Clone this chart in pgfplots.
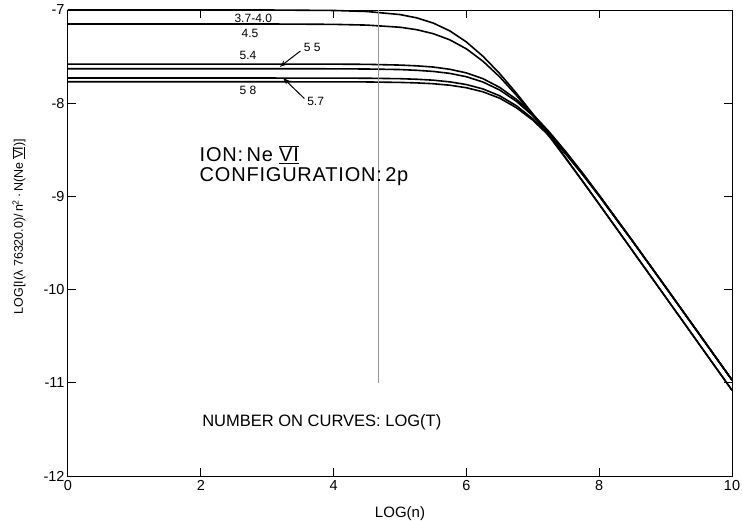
\documentclass[border=0pt]{standalone}
\usepackage{fontspec}
\setmainfont{Liberation Sans}
\usepackage{pgfplots}
\pgfplotsset{compat=1.18}
\usetikzlibrary{arrows.meta}
\newcommand{\rn}[1]{$\overline{\underline{\mbox{#1}}}$}
\newcommand{\fs}[1]{\fontsize{#1}{#1}\selectfont}

\begin{document}
\begin{tikzpicture}
\useasboundingbox (-68pt,-44pt) rectangle (674pt,476pt);
\begin{axis}[
  scale only axis,
  width=664pt, height=466pt,
  xmin=0, xmax=10, ymin=-12, ymax=-7,
  axis line style={line width=1pt},
  tick align=inside,
  major tick length=8pt,
  tick style={line width=1pt, black},
  xtick={0,2,4,6,8,10},
  xticklabels={0,2,4,6,8,10},
  ytick={-12,-11,-10,-9,-8,-7},
  yticklabels={-12,-11,-10,-9,-8,-7},
  ticklabel style={font=\fs{14.5}},
  xticklabel style={yshift=-1pt},
  yticklabel style={xshift=0pt},
  xlabel={LOG(n)},
  xlabel style={font=\fs{15}, at={(axis description cs:0.5,0)}, anchor=center, yshift=-38pt},
  ylabel={LOG[I(λ 76320.0)/\,n\textsuperscript{2}\,·\,N(Ne \rn{VI})]},
  ylabel style={font=\fs{12.5}, at={(axis description cs:-0.074,0.535)}, anchor=center, rotate=0},
  clip=false,
]
% 3.7-4.0
\addplot[line width=1.6pt, black] coordinates {
  (0,-7.000)(3,-7.000)(4,-7.005)(4.5,-7.016)(5,-7.049)(5.25,-7.084)(5.5,-7.140)
  (5.75,-7.224)(6,-7.343)(6.25,-7.497)(6.5,-7.681)(6.75,-7.890)(7,-8.115)
  (7.25,-8.350)(7.5,-8.591)(7.75,-8.836)(8,-9.084)(8.5,-9.581)(9,-10.080)
  (9.5,-10.580)(10,-11.080)
};
% 4.5
\addplot[line width=1.6pt, black] coordinates {
  (0,-7.150)(3,-7.150)(4,-7.154)(4.5,-7.162)(5,-7.185)(5.25,-7.211)(5.5,-7.254)
  (5.75,-7.320)(6,-7.417)(6.25,-7.550)(6.5,-7.717)(6.75,-7.912)(7,-8.128)
  (7.25,-8.358)(7.5,-8.596)(7.75,-8.839)(8,-9.085)(8.5,-9.582)(9,-10.081)
  (9.5,-10.580)(10,-11.080)
};
% 5.4
\addplot[line width=1.6pt, black] coordinates {
  (0,-7.580)(3,-7.580)(4,-7.581)(4.5,-7.583)(5,-7.591)(5.25,-7.599)(5.5,-7.612)
  (5.75,-7.636)(6,-7.675)(6.25,-7.737)(6.5,-7.830)(6.75,-7.957)(7,-8.118)
  (7.25,-8.310)(7.5,-8.523)(7.75,-8.750)(8,-8.987)(8.5,-9.476)(9,-9.972)
  (9.5,-10.471)(10,-10.970)
};
% 5.5
\addplot[line width=1.6pt, black] coordinates {
  (0,-7.630)(3,-7.630)(4,-7.631)(4.5,-7.633)(5,-7.639)(5.25,-7.647)(5.5,-7.659)
  (5.75,-7.680)(6,-7.716)(6.25,-7.773)(6.5,-7.858)(6.75,-7.978)(7,-8.134)
  (7.25,-8.319)(7.5,-8.529)(7.75,-8.754)(8,-8.989)(8.5,-9.476)(9,-9.972)
  (9.5,-10.471)(10,-10.970)
};
% 5.7
\addplot[line width=1.6pt, black] coordinates {
  (0,-7.730)(3,-7.730)(4,-7.731)(4.5,-7.732)(5,-7.737)(5.25,-7.743)(5.5,-7.753)
  (5.75,-7.771)(6,-7.800)(6.25,-7.847)(6.5,-7.920)(6.75,-8.026)(7,-8.167)
  (7.25,-8.342)(7.5,-8.543)(7.75,-8.762)(8,-8.994)(8.5,-9.478)(9,-9.973)
  (9.5,-10.471)(10,-10.970)
};
% 5.8
\addplot[line width=1.6pt, black] coordinates {
  (0,-7.770)(3,-7.770)(4,-7.771)(4.5,-7.772)(5,-7.777)(5.25,-7.782)(5.5,-7.791)
  (5.75,-7.807)(6,-7.834)(6.25,-7.878)(6.5,-7.946)(6.75,-8.047)(7,-8.182)
  (7.25,-8.352)(7.5,-8.549)(7.75,-8.766)(8,-8.997)(8.5,-9.479)(9,-9.973)
  (9.5,-10.471)(10,-10.970)
};
% thin marker line
\addplot[gray!80, line width=0.6pt] coordinates {(4.67,-7)(4.67,-11)};

% curve labels
\node[font=\fs{12}] at (axis cs:2.79,-7.086) {3.7-4.0};
\node[font=\fs{12}] at (axis cs:2.74,-7.25) {4.5};
\node[font=\fs{12}] at (axis cs:2.71,-7.49) {5.4};
\node[font=\fs{12}] at (axis cs:2.71,-7.86) {5 8};
\node[font=\fs{12}, anchor=west] at (axis cs:3.50,-7.40) {5 5};
\node[font=\fs{12}, anchor=west] at (axis cs:3.55,-7.98) {5.7};
\draw[line width=1pt, -{Stealth[length=7pt,width=5pt]}] (axis cs:3.50,-7.44) -- (axis cs:3.19,-7.61);
\draw[line width=1pt, -{Stealth[length=7pt,width=5pt]}] (axis cs:3.56,-7.95) -- (axis cs:3.24,-7.73);

% text blocks
\node[font=\fs{20}\addfontfeature{LetterSpace=4}, anchor=west, inner sep=0pt] at (axis cs:1.98,-8.55) {ION:\,Ne \rn{VI}};
\node[font=\fs{20}\addfontfeature{LetterSpace=4}, anchor=west, inner sep=0pt] at (axis cs:1.98,-8.79) {CONFIGURATION:\,2p};
\node[font=\fs{16.5}, anchor=west, inner sep=0pt] at (axis cs:2.02,-11.42) {NUMBER ON CURVES: LOG(T)};
\end{axis}
\end{tikzpicture}
\end{document}
